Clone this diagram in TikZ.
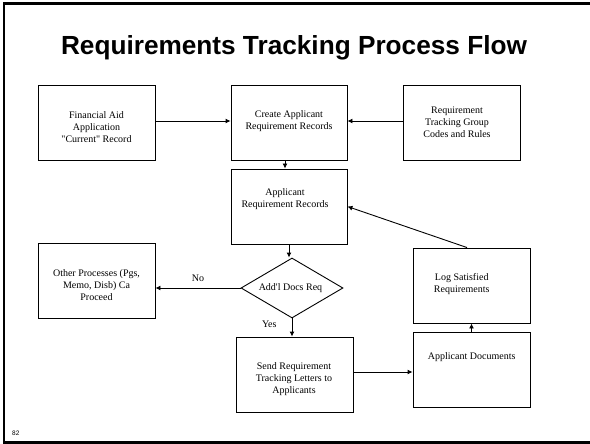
\documentclass[tikz,border=0pt]{standalone}
\usepackage{fontspec}
\setmainfont{Liberation Serif}
\newfontfamily\plainserif{Liberation Serif}
\newfontfamily\titlefont{Liberation Sans}
\usetikzlibrary{shapes.geometric,arrows.meta}
\begin{document}
\begin{tikzpicture}[x=1pt,y=-1pt,
  box/.style={draw,line width=0.9pt,rectangle,minimum width=117pt,minimum height=75pt,inner sep=0pt,anchor=center},
  txt/.style={align=center,font=\plainserif\fontsize{10}{12}\selectfont,inner sep=0pt},
  flow/.style={line width=0.9pt,-{Latex[length=5pt,width=5pt]}}]
\useasboundingbox (0,0) rectangle (590,444);
\fill[white] (0,0) rectangle (590,444);
% slide frame
\draw[line width=2.2pt] (590,3.5) -- (4,3.5) -- (4,442.5) -- (590,442.5);
\node[font=\titlefont\bfseries\fontsize{26.2}{29}\selectfont,anchor=base] (title) at (294,55) {Requirements Tracking Process Flow};
\node[font=\titlefont\fontsize{6.5}{7}\selectfont,anchor=west,inner sep=0pt] (pagenum) at (12,433) {82};
% boxes
\node[box] (fin) at (96.5,123) {};
\node[box,minimum width=116pt] (create) at (289,123) {};
\node[box] (rtg) at (461.5,123) {};
\node[box,minimum width=116pt] (arr) at (289,206.5) {};
\node[box] (other) at (96.5,280.5) {};
\node[draw,line width=0.9pt,diamond,aspect=1.7,minimum width=102pt,minimum height=60pt,inner sep=0pt] (dec) at (292,288) {};
\node[box] (send) at (294.5,374.5) {};
\node[box] (log) at (471.5,285.5) {};
\node[box] (docs) at (471.5,369.5) {};
% texts
\node[txt] (fint) at (96.5,127) {Financial Aid\\Application\\\symbol{"22}Current\symbol{"22} Record};
\node[txt] (createt) at (289,121) {Create Applicant\\Requirement Records};
\node[txt] (rtgt) at (457,122) {Requirement\\Tracking Group\\Codes and Rules};
\node[txt] (arrt) at (285,199.5) {Applicant\\Requirement Records};
\node[txt] (othert) at (96.5,285) {Other Processes (Pgs,\\Memo, Disb) Ca\\Proceed};
\node[txt] (dect) at (290.5,288) {Add\symbol{"27}l Docs Req};
\node[txt] (sendt) at (294,379) {Send Requirement\\Tracking Letters to\\Applicants};
\node[txt] (logt) at (461.7,284) {Log Satisfied\\Requirements};
\node[txt] (docst) at (471.7,357) {Applicant Documents};
% connectors
\draw[flow] ([yshift=2pt]fin.east) -- ([yshift=2pt]create.west);
\draw[flow] ([yshift=2pt]rtg.west) -- ([yshift=2pt]create.east);
\draw[flow] ([xshift=-4pt]create.south) -- ([xshift=-4pt]arr.north);
\draw[flow] (arr.south) -- (arr.south |- dec.north);
\draw[flow] (dec.west) -- node[txt,above=6pt] (no) {No} (dec.west -| other.east);
\draw[flow] (dec.south) -- (dec.south |- send.north) node[txt,pos=0.3,left=15pt] (yes) {Yes};
\draw[flow] ([yshift=2.5pt]send.east) -- ([yshift=2.5pt]send.east -| docs.west);
\draw[flow] (docs.north) -- (log.south);
\draw[flow] ([xshift=-4.5pt]log.north) -- (arr.east);
\end{tikzpicture}
\end{document}
